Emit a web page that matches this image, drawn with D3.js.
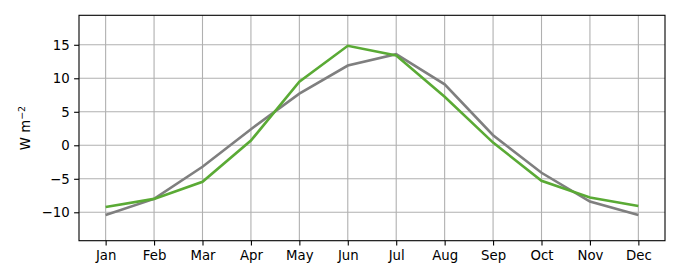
<!DOCTYPE html>
<html>
<head>
<meta charset="utf-8">
<script src="https://cdn.jsdelivr.net/npm/d3@7"></script>
<style>
  body { margin: 0; background: #fff; }
  text { font-family: "DejaVu Sans", sans-serif; font-size: 13.3px; fill: #000; }
</style>
</head>
<body>
<svg id="chart" width="680" height="280"></svg>
<script>
const months = ["Jan", "Feb", "Mar", "Apr", "May", "Jun", "Jul", "Aug", "Sep", "Oct", "Nov", "Dec"];
const greySeries = [-10.4, -8.0, -3.2, 2.4, 7.7, 11.9, 13.6, 9.1, 1.5, -4.1, -8.4, -10.4];
const greenSeries = [-9.2, -8.0, -5.45, 0.7, 9.5, 14.85, 13.4, 7.25, 0.4, -5.3, -7.8, -9.05];
const yTicks = [-10, -5, 0, 5, 10, 15];

const margin = { left: 79, right: 15, top: 15.3, bottom: 39.3 };
const width = 680, height = 280;

const svg = d3.select("#chart");

const x = d3.scaleLinear()
  .domain([-0.55, 11.55])
  .range([margin.left, width - margin.right]);

const y = d3.scaleLinear()
  .domain([-14.24, 19.4])
  .range([height - margin.bottom, margin.top]);

// grid lines
const grid = svg.append("g");
grid.selectAll(".vgrid")
  .data(months)
  .enter().append("line")
  .attr("x1", (d, i) => x(i)).attr("x2", (d, i) => x(i))
  .attr("y1", margin.top).attr("y2", height - margin.bottom)
  .attr("stroke", "#b0b0b0").attr("stroke-width", 1.1);
grid.selectAll(".hgrid")
  .data(yTicks)
  .enter().append("line")
  .attr("x1", margin.left).attr("x2", width - margin.right)
  .attr("y1", d => y(d)).attr("y2", d => y(d))
  .attr("stroke", "#b0b0b0").attr("stroke-width", 1.1);

// lines
const line = d3.line()
  .x((d, i) => x(i))
  .y(d => y(d));

svg.append("path")
  .datum(greySeries)
  .attr("d", line)
  .attr("fill", "none")
  .attr("stroke", "#7f7f7f")
  .attr("stroke-width", 2.6);

svg.append("path")
  .datum(greenSeries)
  .attr("d", line)
  .attr("fill", "none")
  .attr("stroke", "#5aaa35")
  .attr("stroke-width", 2.6);

// axes
const xAxis = d3.axisBottom(x)
  .tickValues(d3.range(months.length))
  .tickFormat(i => months[i])
  .tickSize(4.9)
  .tickPadding(4.5);

const yAxis = d3.axisLeft(y)
  .tickValues(yTicks)
  .tickFormat(d => d < 0 ? "\u2212" + Math.abs(d) : d)
  .tickSize(4.9)
  .tickPadding(4.5);

const gx = svg.append("g")
  .attr("transform", `translate(0,${height - margin.bottom})`)
  .call(xAxis);
const gy = svg.append("g")
  .attr("transform", `translate(${margin.left},0)`)
  .call(yAxis);

[gx, gy].forEach(g => {
  g.select(".domain").remove();
  g.selectAll(".tick line").attr("stroke", "#000").attr("stroke-width", 1.1);
  g.selectAll(".tick text").attr("font-family", "DejaVu Sans").attr("font-size", 13.3).attr("fill", "#000");
});

// frame
svg.append("rect")
  .attr("x", margin.left).attr("y", margin.top)
  .attr("width", width - margin.left - margin.right)
  .attr("height", height - margin.top - margin.bottom)
  .attr("fill", "none")
  .attr("stroke", "#000")
  .attr("stroke-width", 1.1);

// y label
const yl = svg.append("text")
  .attr("transform", `translate(30,${(margin.top + height - margin.bottom) / 2}) rotate(-90)`)
  .attr("text-anchor", "middle");
yl.append("tspan").text("W m");
yl.append("tspan").attr("dy", -5).attr("font-size", 9.5).text("\u22122");
</script>
</body>
</html>
